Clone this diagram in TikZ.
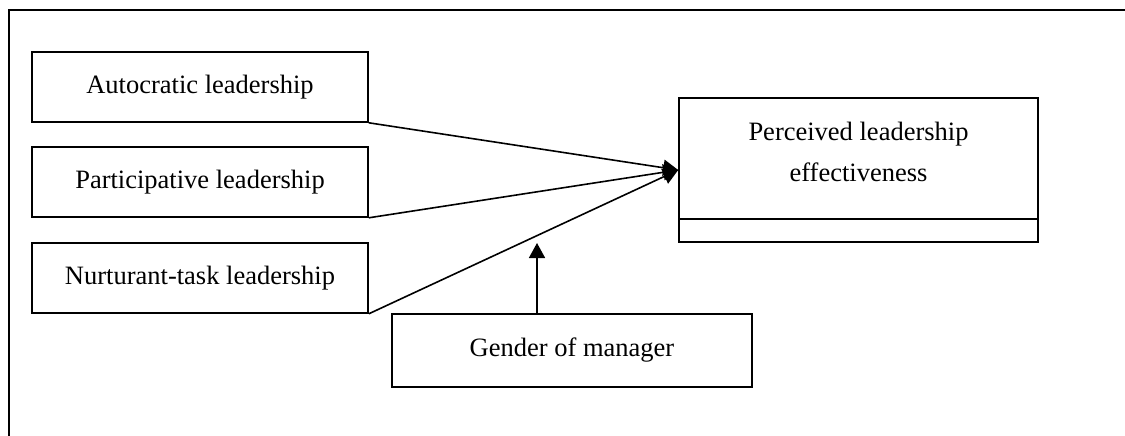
\documentclass[tikz,border=0pt]{standalone}
\usepackage{fontspec}
\setmainfont{Liberation Serif}
\usetikzlibrary{arrows.meta}
\begin{document}
\begin{tikzpicture}[x=1pt, y=-1pt,
  boite/.style={draw, line width=1.6pt, inner sep=0pt,
    font=\fontsize{26.5}{41}\selectfont},
  texte/.style={align=center, font=\fontsize{26.5}{41}\selectfont},
  fleche/.style={line width=1.6pt, -{Triangle[length=15pt, width=16pt]}}]
  \useasboundingbox (0,0) rectangle (1125,436);
  % Outer frame (open at right and bottom)
  \draw[line width=1.6pt] (1125,10) -- (9,10) -- (9,436);
  % Leadership styles
  \node[boite, minimum width=336pt, minimum height=70pt] (auto) at (200,87) {Autocratic leadership};
  \node[boite, minimum width=336pt, minimum height=70pt] (part) at (200,182) {Participative leadership};
  \node[boite, minimum width=336pt, minimum height=70pt] (nurt) at (200,278) {Nurturant-task leadership};
  % Outcome box with lower strip
  \node[boite, minimum width=359pt, minimum height=144pt] (perc) at (858.5,170) {};
  \node[texte] (perctxt) at (858.5,152) {Perceived leadership\\effectiveness};
  \draw[line width=1.6pt] ([yshift=24pt]perc.south west) -- ([yshift=24pt]perc.south east);
  % Moderator
  \node[boite, minimum width=360pt, minimum height=73pt] (gend) at (572,350.5) {Gender of manager};
  \coordinate (gtip) at (537,243);
  % Arrows
  \draw[fleche] (auto.south east) -- (perc.west);
  \draw[fleche] (part.south east) -- (perc.west);
  \draw[fleche] (nurt.south east) -- (perc.west);
  \draw[fleche] (gtip |- gend.north) -- (gtip);
\end{tikzpicture}
\end{document}
